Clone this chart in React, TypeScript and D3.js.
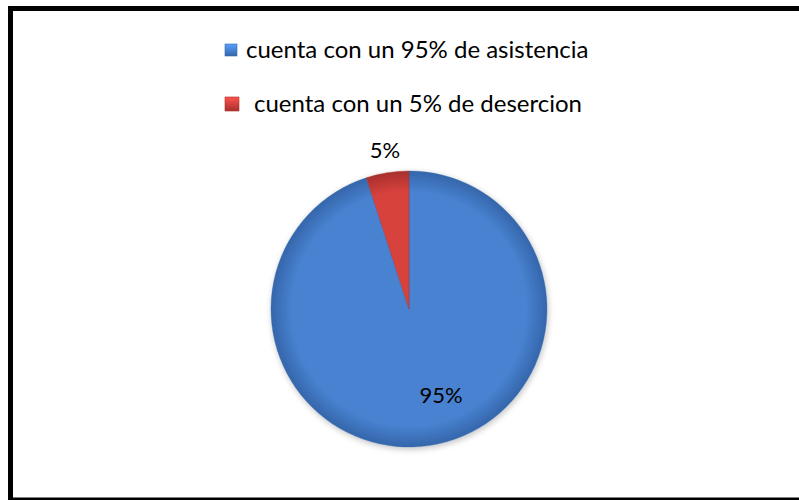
import React from "react";
import * as d3 from "d3";

const categories = ["cuenta con un 95% de asistencia", "cuenta con un 5% de desercion"];
const values = [95, 5];
const labels = ["95%", "5%"];
const colors = ["#4882d0", "#d8423d"];
const darkColors = ["#3566ab", "#a8302d"];

export default function App() {
  const W = 799, H = 500;
  const cx = 409, cy = 309, r = 138;
  const pie = d3.pie<number>().sort(null).value((d) => d)(values);
  const arc = d3.arc<d3.PieArcDatum<number>>().innerRadius(0).outerRadius(r);
  const labelPos = [
    [441, 397],
    [385, 152],
  ];
  return (
    <svg width={W} height={H} style={{ position: "absolute", left: 0, top: 0 }}>
      <defs>
        {colors.map((c, i) => (
          <radialGradient key={i} id={`g${i}`} cx={0} cy={0} r={r} gradientUnits="userSpaceOnUse">
            <stop offset="0" stopColor={c} />
            <stop offset="0.85" stopColor={c} />
            <stop offset="1" stopColor={darkColors[i]} />
          </radialGradient>
        ))}
        {colors.map((c, i) => (
          <linearGradient key={"l" + i} id={`m${i}`} x1="0" y1="0" x2="0" y2="1">
            <stop offset="0" stopColor={d3.color(c)!.brighter(0.6).toString()} />
            <stop offset="1" stopColor={darkColors[i]} />
          </linearGradient>
        ))}
        <filter id="sh" x="-20%" y="-20%" width="140%" height="140%">
          <feGaussianBlur in="SourceAlpha" stdDeviation="3" />
          <feOffset dx="1" dy="2" result="b" />
          <feComponentTransfer><feFuncA type="linear" slope="0.25" /></feComponentTransfer>
          <feMerge><feMergeNode /><feMergeNode in="SourceGraphic" /></feMerge>
        </filter>
      </defs>
      <rect x={0} y={0} width={W} height={H} fill="#fff" />
      <rect x={10.5} y={8.5} width={W + 10} height={491.5} fill="none" stroke="#000" strokeWidth={5} />
      <g filter="url(#sh)" transform={`translate(${cx},${cy})`}>
        {pie.map((p, i) => (
          <path key={i} d={arc(p)!} fill={`url(#g${i})`} stroke={darkColors[i]} strokeOpacity={0.5} strokeWidth={0.8} />
        ))}
      </g>
      {pie.map((p, i) => (
        <text key={"t" + i} x={labelPos[i][0]} y={labelPos[i][1]} textAnchor="middle" dominantBaseline="middle"
          fontFamily="Lato, 'Open Sans', sans-serif" fontSize={22} fill="#000">{labels[i]}</text>
      ))}
      {categories.map((c, i) => {
        const my = i === 0 ? 44 : 97;
        const ms = i === 0 ? 12 : 14;
        const mx = 225;
        return (
          <g key={"lg" + i}>
            <rect x={mx} y={my} width={ms} height={ms} fill={`url(#m${i})`} stroke={darkColors[i]} strokeWidth={0.6} />
            <text x={i === 0 ? 246 : 254} y={i === 0 ? 58 : 112} fontFamily="Lato, 'Open Sans', sans-serif" fontSize={24} fill="#000">{c}</text>
          </g>
        );
      })}
    </svg>
  );
}
